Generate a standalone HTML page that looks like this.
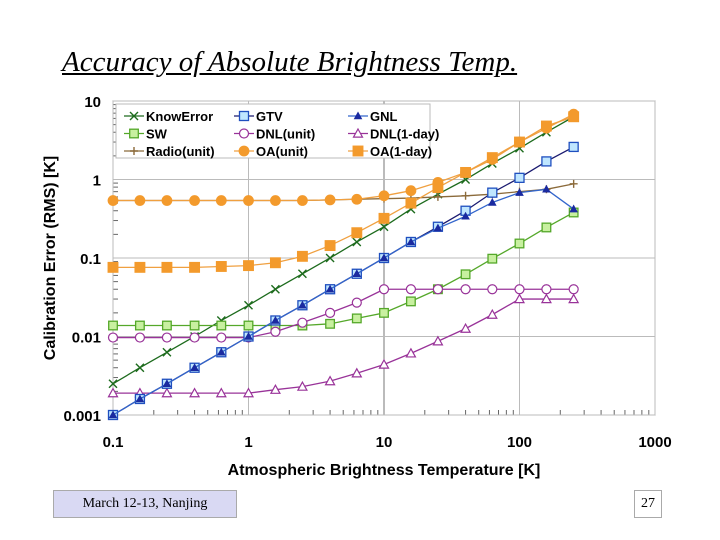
<!DOCTYPE html>
<html><head><meta charset="utf-8"><style>
body{margin:0;background:#fff;width:720px;height:540px;overflow:hidden;position:relative;font-family:"Liberation Sans",sans-serif}
#title{position:absolute;left:62px;top:46px;font-family:"Liberation Serif",serif;font-style:italic;font-size:29px;text-decoration:underline;color:#000}
#foot{position:absolute;left:53px;top:490px;width:182px;height:26px;background:#d9d9f3;border:1px solid #aaa;font-family:"Liberation Serif",serif;font-size:14px;line-height:26px;text-align:center}
#pg{position:absolute;left:634px;top:490px;width:26px;height:26px;border:1px solid #aaa;font-family:"Liberation Serif",serif;font-size:14px;line-height:26px;text-align:center}
</style></head><body>
<div id="title">Accuracy of Absolute Brightness Temp.</div>
<svg id="c" width="720" height="540" style="position:absolute;left:0;top:0"></svg>
<div id="foot">March 12-13, Nanjing</div>
<div id="pg">27</div>
<script>
const xs=[0.1,0.158,0.25,0.4,0.63,1,1.58,2.5,4,6.3,10,15.8,25,40,63,100,158,251];
const knowError=[0.0025,0.004,0.0063,0.01,0.016,0.025,0.04,0.063,0.1,0.16,0.25,0.42,0.65,1.0,1.6,2.5,4.0,6.3];
const gtv=[0.001,0.0016,0.0025,0.004,0.0063,0.01,0.016,0.025,0.04,0.063,0.1,0.16,0.25,0.4,0.68,1.05,1.7,2.6];
const gnl=[0.001,0.0016,0.0025,0.004,0.0063,0.01,0.016,0.025,0.04,0.063,0.1,0.16,0.24,0.34,0.51,0.68,0.75,0.42];
const sw=[0.0138,0.0138,0.0138,0.0138,0.0138,0.0138,0.0138,0.0138,0.0145,0.017,0.02,0.028,0.04,0.062,0.098,0.153,0.245,0.38];
const dnlUnit=[0.0097,0.0097,0.0097,0.0097,0.0097,0.0097,0.0115,0.015,0.02,0.027,0.04,0.04,0.04,0.04,0.04,0.04,0.04,0.04];
const dnlDay=[0.0019,0.0019,0.0019,0.0019,0.0019,0.0019,0.0021,0.0023,0.0027,0.0034,0.0044,0.0061,0.0087,0.0126,0.019,0.03,0.03,0.03];
const radio=[0.54,0.54,0.54,0.54,0.54,0.54,0.54,0.54,0.55,0.56,0.57,0.58,0.6,0.62,0.65,0.7,0.75,0.88];
const oaUnit=[0.54,0.54,0.54,0.54,0.54,0.54,0.54,0.54,0.55,0.56,0.62,0.72,0.92,1.23,1.8,3.0,4.5,6.8];
const oaDay=[0.076,0.076,0.076,0.076,0.078,0.08,0.087,0.105,0.144,0.21,0.32,0.5,0.79,1.23,1.9,3.0,4.8,6.3];
const xTicks=[0.1,1,10,100,1000], xTickLabels=["0.1","1","10","100","1000"];
const yTicks=[0.001,0.01,0.1,1,10], yTickLabels=["0.001","0.01","0.1","1","10"];
const L=113,R=655,T=101,B=415;
const X=v=>L+(Math.log10(v)+1)/4*(R-L);
const Y=v=>B-(Math.log10(v)+3)/4*(B-T);
const svg=document.getElementById('c');const NS="http://www.w3.org/2000/svg";
function mk(t,a,p){const e=document.createElementNS(NS,t);for(const k in a)e.setAttribute(k,a[k]);(p||svg).appendChild(e);return e;}
mk('rect',{x:L,y:T,width:R-L,height:B-T,fill:'#fff',stroke:'#999'});
for(let d=-1;d<3;d++)for(let m=2;m<10;m++){const x=X(m*Math.pow(10,d));mk('line',{x1:x,x2:x,y1:B,y2:B-5,stroke:'#666'});}
for(let d=-3;d<1;d++)for(let m=2;m<10;m++){const y=Y(m*Math.pow(10,d));mk('line',{x1:L,x2:L+5,y1:y,y2:y,stroke:'#666'});}
xTicks.forEach((v,i)=>{const x=X(v);const g=mk('line',{x1:x,x2:x,y1:T,y2:B,stroke:i==2?'#777':'#bbb'});
const t=mk('text',{x:x,y:447,'text-anchor':'middle','font-size':15,'font-weight':'bold'});t.textContent=xTickLabels[i];});
yTicks.forEach((v,i)=>{const y=Y(v);mk('line',{x1:L,x2:R,y1:y,y2:y,stroke:'#bbb'});
const t=mk('text',{x:101,y:y+6,'text-anchor':'end','font-size':15,'font-weight':'bold'});t.textContent=yTickLabels[i];});
let xt=mk('text',{x:384,y:475,'text-anchor':'middle','font-size':16,'font-weight':'bold'});xt.textContent='Atmospheric Brightness Temperature [K]';

let yt=mk('text',{x:0,y:0,'text-anchor':'middle','font-size':16,'font-weight':'bold',transform:'translate(55,258) rotate(-90)'});yt.textContent='Calibration Error (RMS) [K]';

function marker(g,type,x,y,c,f,s){s=s||4.3;
if(type=='x'){mk('path',{d:`M${x-s},${y-s}L${x+s},${y+s}M${x-s},${y+s}L${x+s},${y-s}`,stroke:c,'stroke-width':1.4},g);}
else if(type=='+'){mk('path',{d:`M${x-s},${y}L${x+s},${y}M${x},${y-s}L${x},${y+s}`,stroke:c,'stroke-width':1.4},g);}
else if(type=='sq'){mk('rect',{x:x-s,y:y-s,width:2*s,height:2*s,fill:f,stroke:c,'stroke-width':1.3},g);}
else if(type=='o'){mk('circle',{cx:x,cy:y,r:s,fill:f,stroke:c,'stroke-width':1.2},g);}
else if(type=='tri'){mk('path',{d:`M${x},${y-s}L${x+s},${y+s*0.8}L${x-s},${y+s*0.8}Z`,fill:f,stroke:c,'stroke-width':1.2},g);}}
const series=[
['know-error',knowError,'#1d6b1d','x','none','#1d6b1d',4],
['sw',sw,'#55a82a','sq','#c8f0a0','#55a82a',4.3],
['dnl-unit',dnlUnit,'#993399','o','#fff','#993399',4.5],
['dnl-1day',dnlDay,'#993399','tri','#fff','#993399',4.5],
['radio-unit',radio,'#8b6a3a','+','none','#8b6a3a',4],
['oa-unit',oaUnit,'#f0a040','o','#f39a2c','#f39a2c',4.8],
['oa-1day',oaDay,'#f0a040','sq','#f39a2c','#f39a2c',4.8],
['gtv',gtv,'#1a1a70','sq','#bfe6ff','#1f4fbf',4.5],
['gnl',gnl,'#3366cc','tri','#1a2aa0','#1a2aa0',3.3]];
series.forEach(s=>{const g=mk('g',{});
mk('polyline',{points:xs.map((x,i)=>X(x)+','+Y(s[1][i])).join(' '),fill:'none',stroke:s[2],'stroke-width':1.3},g);
xs.forEach((x,i)=>marker(g,s[3],X(x),Y(s[1][i]),s[5],s[4],s[6]));});
const lg=mk('g',{});
mk('rect',{x:116,y:104,width:314,height:54,fill:'#fff',stroke:'#bbb'},lg);
const leg=[['KnowError',0],['GTV',7],['GNL',8],['SW',1],['DNL(unit)',2],['DNL(1-day)',3],['Radio(unit)',4],['OA(unit)',5],['OA(1-day)',6]];
leg.forEach((e,i)=>{const s=series[e[1]];const cx=[134,244,358][i%3],cy=116+Math.floor(i/3)*17.5;
const g=mk('g',{},lg);
mk('line',{x1:cx-10,x2:cx+10,y1:cy,y2:cy,stroke:s[2],'stroke-width':1.3},g);marker(g,s[3],cx,cy,s[5],s[4],s[6]);
const t=mk('text',{x:cx+12,y:cy+5,'font-size':13,'font-weight':'bold'},g);t.textContent=e[0];});
</script>
</body></html>
